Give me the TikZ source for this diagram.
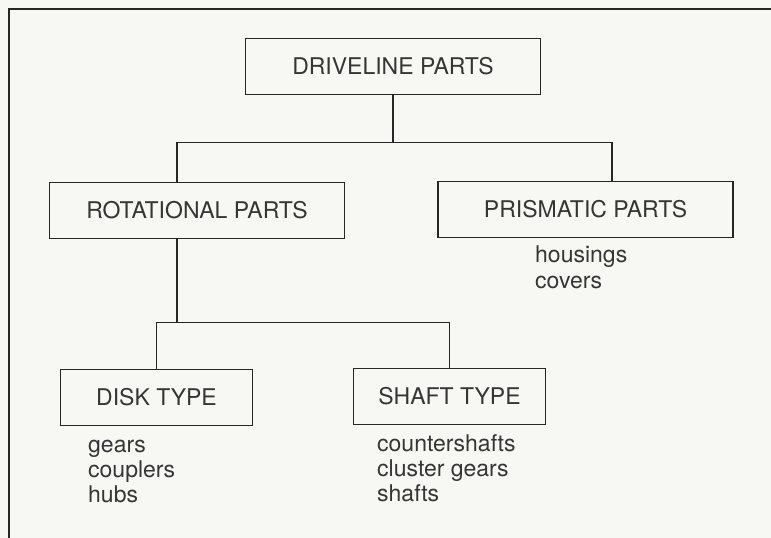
\documentclass[tikz,border=0pt]{standalone}
\usepackage{fontspec}
\setmainfont{TeX Gyre Heros}
\usetikzlibrary{positioning}
\definecolor{ink}{HTML}{262626}
\definecolor{txt}{HTML}{353535}
\definecolor{paper}{HTML}{F7F7F4}

\begin{document}
\begin{tikzpicture}[
  x=1pt,y=-1pt,
  font=\fontsize{23}{25}\selectfont,
  part/.style={draw=ink,line width=1.9pt,minimum height=56pt,inner sep=0pt,text=txt},
  wide/.style={part,minimum width=295pt},
  narrow/.style={part,minimum width=192pt},
  item/.style={anchor=base west,inner sep=0pt,text=txt},
  link/.style={draw=ink,line width=1.9pt},
]
% page and frame
\fill[paper] (0,0) rectangle (771,538);
\useasboundingbox (0,0) rectangle (771,538);
\draw[link] (9,538) -- (9,9) -- (771,9);

% boxes
\node[wide]   (drive) at (393,66.5)    {DRIVELINE PARTS};
\node[wide]   (rot)   at (197,210.5)   {ROTATIONAL PARTS};
\node[wide]   (prism) at (585.5,209.5) {PRISMATIC PARTS};
\node[narrow] (disk)  at (156.5,397.5) {DISK TYPE};
\node[narrow] (shaft) at (449.5,396.5) {SHAFT TYPE};

% tree joints
\coordinate (j1) at ([yshift=-47pt]drive.south);
\coordinate (j2) at ([xshift=-20pt,yshift=-83pt]rot.south);
\draw[link] (drive.south) -- (j1);
\draw[link] ([xshift=-20pt]rot.north) |- (j1) -| ([xshift=26.5pt]prism.north);
\draw[link] ([xshift=-20pt]rot.south) -- (j2);
\draw[link] (disk.north) |- (j2) -| (shaft.north);

% part lists
\foreach \t [count=\i from 0] in {housings,covers}
  \node[item] (prism-\i) at (535,{262+26*\i}) {\t};
\foreach \t [count=\i from 0] in {gears,couplers,hubs}
  \node[item] (disk-\i) at (88,{452+25*\i}) {\t};
\foreach \t [count=\i from 0] in {countershafts,cluster gears,shafts}
  \node[item] (shaft-\i) at (377,{451+25*\i}) {\t};
\end{tikzpicture}
\end{document}
